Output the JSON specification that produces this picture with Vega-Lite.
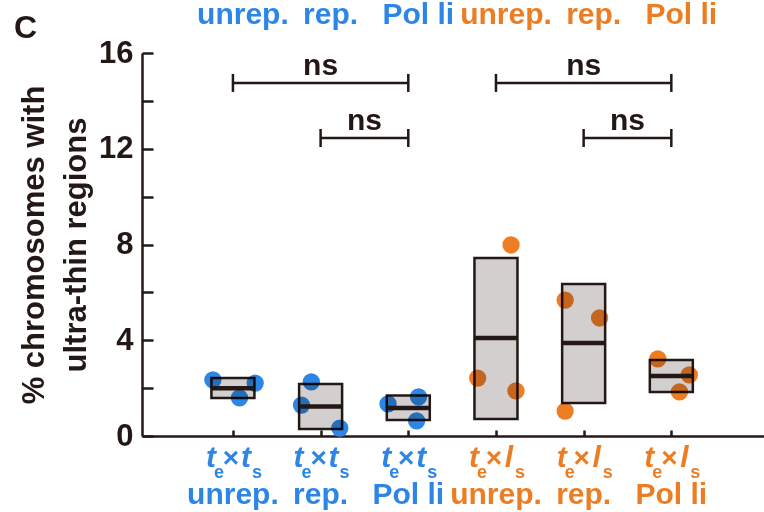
{
  "$schema": "https://vega.github.io/schema/vega-lite/v6.json",
  "autosize": {"type": "none"},
  "padding": {"left": 142, "top": 53, "right": 0, "bottom": 76},
  "width": 622,
  "height": 383,
  "background": "white",
  "config": {"view": {"stroke": null}, "font": "Liberation Sans"},
  "datasets": {
    "pts": [
      {"xj": 0.772, "pct": 2.34, "set": "te×ts"},
      {"xj": 1.254, "pct": 2.21, "set": "te×ts"},
      {"xj": 1.075, "pct": 1.59, "set": "te×ts"},
      {"xj": 1.894, "pct": 2.26, "set": "te×ts"},
      {"xj": 1.782, "pct": 1.29, "set": "te×ts"},
      {"xj": 2.219, "pct": 0.33, "set": "te×ts"},
      {"xj": 2.769, "pct": 1.34, "set": "te×ts"},
      {"xj": 3.117, "pct": 1.63, "set": "te×ts"},
      {"xj": 3.095, "pct": 0.63, "set": "te×ts"},
      {"xj": 4.172, "pct": 7.98, "set": "te×ls"},
      {"xj": 3.791, "pct": 2.42, "set": "te×ls"},
      {"xj": 4.228, "pct": 1.88, "set": "te×ls"},
      {"xj": 4.789, "pct": 5.68, "set": "te×ls"},
      {"xj": 5.182, "pct": 4.93, "set": "te×ls"},
      {"xj": 4.789, "pct": 1.04, "set": "te×ls"},
      {"xj": 5.846, "pct": 3.22, "set": "te×ls"},
      {"xj": 6.205, "pct": 2.55, "set": "te×ls"},
      {"xj": 6.093, "pct": 1.84, "set": "te×ls"}
    ],
    "box": [
      {"pos": 1, "lo": 1.59, "hi": 2.42, "med": 2.0},
      {"pos": 2, "lo": 0.29, "hi": 2.17, "med": 1.23},
      {"pos": 3, "lo": 0.67, "hi": 1.69, "med": 1.17},
      {"pos": 4, "lo": 0.71, "hi": 7.44, "med": 4.09},
      {"pos": 5, "lo": 1.38, "hi": 6.35, "med": 3.88},
      {"pos": 6, "lo": 1.84, "hi": 3.17, "med": 2.51}
    ],
    "br": [
      {"x1": 1, "x2": 3, "mid": 2, "y": 14.75, "label": "ns"},
      {"x1": 2, "x2": 3, "mid": 2.5, "y": 12.45, "label": "ns"},
      {"x1": 4, "x2": 6, "mid": 5, "y": 14.75, "label": "ns"},
      {"x1": 5, "x2": 6, "mid": 5.5, "y": 12.45, "label": "ns"}
    ],
    "lab": [
      {"pos": 1, "set": "te×ts", "sym": "t", "cond": "unrep."},
      {"pos": 2, "set": "te×ts", "sym": "t", "cond": "rep."},
      {"pos": 3, "set": "te×ts", "sym": "t", "cond": "Pol li"},
      {"pos": 4, "set": "te×ls", "sym": "l", "cond": "unrep."},
      {"pos": 5, "set": "te×ls", "sym": "l", "cond": "rep."},
      {"pos": 6, "set": "te×ls", "sym": "l", "cond": "Pol li"}
    ],
    "panel": [
      {"pos": 0.02, "pct": 16, "tag": "C"}
    ]
  },
  "layer": [
    {
      "data": {"name": "pts"},
      "mark": {"type": "circle", "size": 300, "opacity": 1},
      "encoding": {
        "x": {"field": "xj", "type": "quantitative", "scale": {"domain": [0.02, 7.0], "nice": false, "zero": false},
              "axis": {"values": [1, 2, 3, 4, 5, 6], "labels": false, "title": null, "grid": false, "tickSize": -6, "tickWidth": 2.5, "tickColor": "#231815", "domainColor": "#231815", "domainWidth": 2.5}},
        "y": {"field": "pct", "type": "quantitative", "scale": {"domain": [0, 16], "nice": false},
              "axis": {"values": [0, 2, 4, 6, 8, 10, 12, 14, 16], "labelExpr": "datum.value % 4 === 0 ? datum.label : ''", "grid": false,
                       "tickSize": -11, "tickWidth": 2.5, "tickColor": "#231815", "domainColor": "#231815", "domainWidth": 2.5,
                       "labelPadding": 20, "labelFontSize": 31, "labelFontWeight": "bold", "labelColor": "#231815", "labelFlush": false,
                       "title": ["% chromosomes with", "ultra-thin regions"], "titleFontSize": 31, "titleFontWeight": "bold", "titleColor": "#231815", "titleLineHeight": 42, "titlePadding": 6}},
        "color": {"field": "set", "type": "nominal", "scale": {"domain": ["te×ts", "te×ls"], "range": ["#2d86e6", "#ed7d23"]}, "legend": null}
      }
    },
    {
      "data": {"name": "box"},
      "mark": {"type": "bar", "size": 43, "fill": "#d3cfcf", "stroke": "#231815", "strokeWidth": 2.5, "blend": "multiply"},
      "encoding": {
        "x": {"field": "pos", "type": "quantitative"},
        "y": {"field": "lo", "type": "quantitative"},
        "y2": {"field": "hi"}
      }
    },
    {
      "data": {"name": "box"},
      "mark": {"type": "tick", "orient": "horizontal", "size": 43, "thickness": 4.5, "color": "#231815", "opacity": 1},
      "encoding": {
        "x": {"field": "pos", "type": "quantitative"},
        "y": {"field": "med", "type": "quantitative"}
      }
    },
    {
      "data": {"name": "br"},
      "mark": {"type": "rule", "color": "#231815", "strokeWidth": 2.5},
      "encoding": {
        "x": {"field": "x1", "type": "quantitative"},
        "x2": {"field": "x2"},
        "y": {"field": "y", "type": "quantitative"}
      }
    },
    {
      "data": {"name": "br"},
      "transform": [{"fold": ["x1", "x2"], "as": ["end", "xe"]}],
      "mark": {"type": "tick", "orient": "vertical", "size": 18, "thickness": 2.5, "color": "#231815", "opacity": 1},
      "encoding": {
        "x": {"field": "xe", "type": "quantitative"},
        "y": {"field": "y", "type": "quantitative"}
      }
    },
    {
      "data": {"name": "br"},
      "mark": {"type": "text", "fontSize": 30, "fontWeight": "bold", "color": "#231815", "baseline": "alphabetic", "dy": -8},
      "encoding": {
        "x": {"field": "mid", "type": "quantitative"},
        "y": {"field": "y", "type": "quantitative"},
        "text": {"field": "label"}
      }
    },
    {
      "data": {"name": "panel"},
      "mark": {"type": "text", "fontSize": 32, "fontWeight": "bold", "color": "#231815", "align": "left", "baseline": "alphabetic", "dx": -133, "dy": -15},
      "encoding": {
        "x": {"field": "pos", "type": "quantitative"},
        "y": {"field": "pct", "type": "quantitative"},
        "text": {"field": "tag"}
      }
    },
    {
      "data": {"name": "lab"},
      "mark": {"type": "text", "text": "t", "fontSize": 30, "fontWeight": "bold", "fontStyle": "italic", "baseline": "alphabetic", "dy": 31, "dx": -22},
      "encoding": {
        "x": {"field": "pos", "type": "quantitative"},
        "y": {"datum": 0},
        "color": {"field": "set", "type": "nominal"}
      }
    },
    {
      "data": {"name": "lab"},
      "mark": {"type": "text", "text": "e", "fontSize": 18, "fontWeight": "bold", "baseline": "alphabetic", "dy": 42, "dx": -14},
      "encoding": {
        "x": {"field": "pos", "type": "quantitative"},
        "y": {"datum": 0},
        "color": {"field": "set", "type": "nominal"}
      }
    },
    {
      "data": {"name": "lab"},
      "mark": {"type": "text", "text": "×", "fontSize": 28, "fontWeight": "bold", "baseline": "alphabetic", "dy": 31, "dx": -2},
      "encoding": {
        "x": {"field": "pos", "type": "quantitative"},
        "y": {"datum": 0},
        "color": {"field": "set", "type": "nominal"}
      }
    },
    {
      "data": {"name": "lab"},
      "mark": {"type": "text", "fontSize": 30, "fontWeight": "bold", "fontStyle": "italic", "baseline": "alphabetic", "dy": 31, "dx": 13},
      "encoding": {
        "x": {"field": "pos", "type": "quantitative"},
        "y": {"datum": 0},
        "text": {"field": "sym"},
        "color": {"field": "set", "type": "nominal"}
      }
    },
    {
      "data": {"name": "lab"},
      "mark": {"type": "text", "text": "s", "fontSize": 18, "fontWeight": "bold", "baseline": "alphabetic", "dy": 42, "dx": 24},
      "encoding": {
        "x": {"field": "pos", "type": "quantitative"},
        "y": {"datum": 0},
        "color": {"field": "set", "type": "nominal"}
      }
    },
    {
      "data": {"name": "lab"},
      "mark": {"type": "text", "fontSize": 30, "fontWeight": "bold", "baseline": "alphabetic", "dy": 68},
      "encoding": {
        "x": {"field": "pos", "type": "quantitative"},
        "y": {"datum": 0},
        "text": {"field": "cond"},
        "color": {"field": "set", "type": "nominal"}
      }
    },
    {
      "data": {"name": "lab"},
      "mark": {"type": "text", "fontSize": 30, "fontWeight": "bold", "baseline": "alphabetic", "dy": -29, "dx": 10},
      "encoding": {
        "x": {"field": "pos", "type": "quantitative"},
        "y": {"datum": 16},
        "text": {"field": "cond"},
        "color": {"field": "set", "type": "nominal"}
      }
    }
  ]
}
